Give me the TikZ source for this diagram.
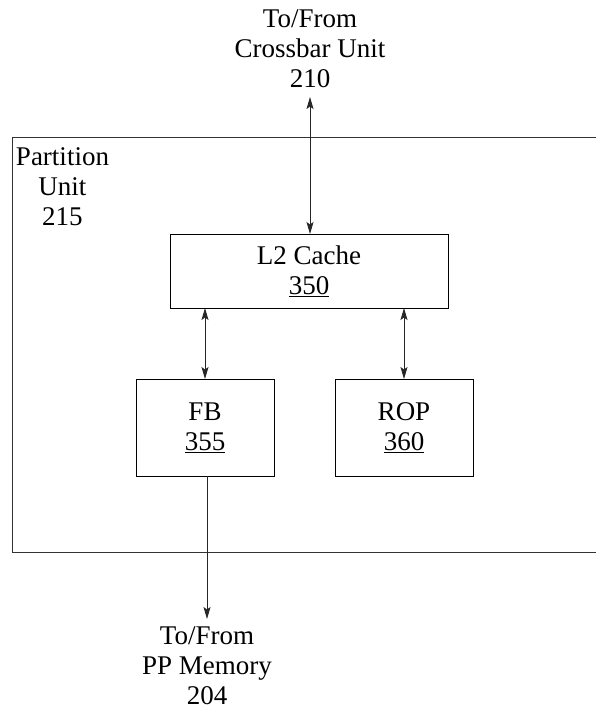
\documentclass[tikz,border=0pt]{standalone}
\usepackage{fontspec}
\setmainfont{Liberation Serif}
\usetikzlibrary{arrows.meta}
\tikzset{
  txt/.style={font=\fontsize{27}{30}\selectfont, align=center, inner sep=0pt, outer sep=0pt},
  unitbox/.style={draw=black, line width=0.9pt, txt},
  tip/.style={Stealth[length=12pt,width=7pt,inset=2.5pt]},
  conn/.style={line width=0.9pt, draw=black!85, {Stealth[length=12pt,width=7pt,inset=2.5pt]}-{Stealth[length=12pt,width=7pt,inset=2.5pt]}},
  oneway/.style={line width=0.9pt, draw=black!85, -{Stealth[length=12pt,width=7pt,inset=2.5pt]}}
}
\begin{document}
\begin{tikzpicture}[x=1pt,y=-1pt]
\useasboundingbox (0,0) rectangle (596,713);
% partition unit outline (right edge beyond page)
\draw[line width=0.9pt, draw=black!80] (596,137) -- (12,137) -- (12,552) -- (596,552);
\node[txt, anchor=north west] (pu) at (16,148) {Partition\\Unit\\215};
% boxes
\node[unitbox, minimum width=278pt, minimum height=74pt] (l2) at (309,271) {L2 Cache\\\underline{350}};
\node[unitbox, minimum width=138pt, minimum height=97pt] (fb) at (205,427.5) {FB\\\underline{355}};
\node[unitbox, minimum width=138pt, minimum height=97pt] (rop) at (404,427.5) {ROP\\\underline{360}};
% external labels
\node[txt, anchor=south] (xbar) at (310,88) {To/From\\Crossbar Unit\\210};
\node[txt, anchor=north] (mem) at (207,627) {To/From\\PP Memory\\204};
% connectors
\draw[conn, shorten <=9pt] (xbar.south) -- (l2.north -| xbar.south);
\draw[conn] (l2.south -| fb.north) -- (fb.north);
\draw[conn] (l2.south -| rop.north) -- (rop.north);
\draw[oneway, shorten >=8pt] (fb.south -| mem.north) -- (mem.north);
\end{tikzpicture}
\end{document}
